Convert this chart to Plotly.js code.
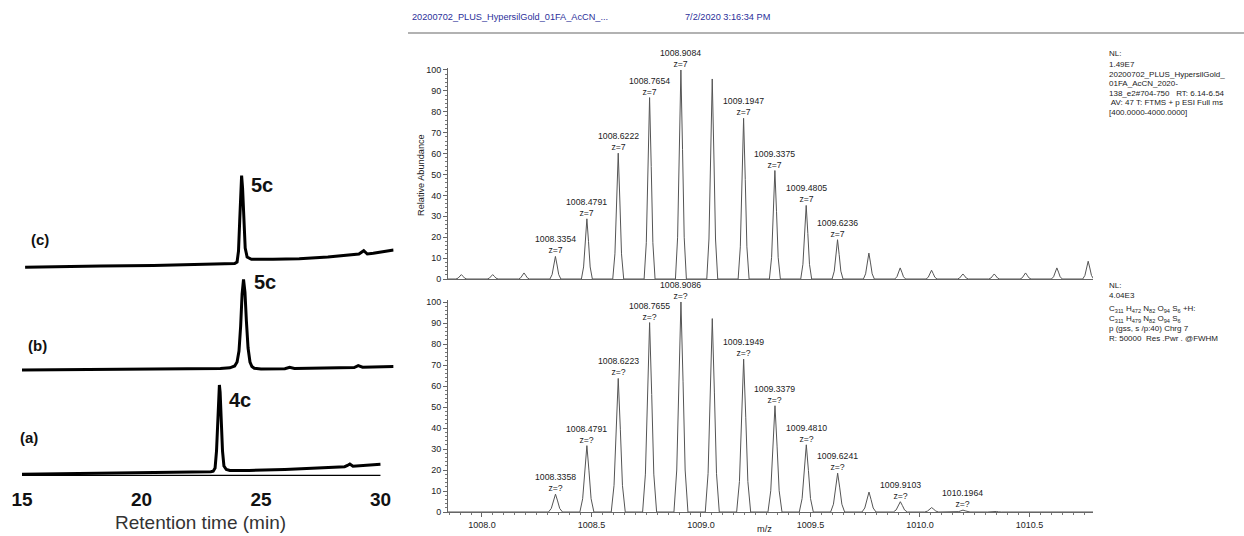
<!DOCTYPE html>
<html>
<head>
<meta charset="utf-8">
<script src="https://cdn.plot.ly/plotly-3.0.1.min.js"></script>
<style>html,body{margin:0;padding:0;background:#fff;}#chart{width:1244px;height:536px;}</style>
</head>
<body>
<div id="chart"></div>
<script>
// ---------- DATA ----------
// Chromatograms (retention time in min, signal in arbitrary units incl. vertical offset of each trace)
const chromA_t = [15, 17, 19, 21, 22.5, 22.9, 23.0, 23.08, 23.14, 23.19, 23.23, 23.26, 23.29, 23.33, 23.39, 23.45, 23.55, 23.7, 24.5, 26, 27.5, 28.5, 28.62, 28.72, 28.85, 29.2, 30];
const chromA_v = [1.7, 2.2, 2.7, 3.2, 3.6, 4.2, 4.8, 8, 25, 60, 84, 91, 84, 60, 25, 10, 6.5, 5.5, 5.5, 6.5, 7.8, 9.3, 10.5, 12, 9.8, 10.6, 11.7];
const chromB_t = [14.95, 17, 19, 21, 22.5, 23.3, 23.7, 23.9, 24.0, 24.08, 24.15, 24.21, 24.27, 24.33, 24.39, 24.46, 24.54, 24.62, 24.72, 25.0, 26.0, 26.2, 26.4, 28.9, 29.07, 29.25, 30.55];
const chromB_v = [106, 106.3, 106.6, 106.9, 107.2, 107.6, 108.2, 110, 114, 125, 150, 182, 196.5, 184, 155, 128, 114, 109.5, 107.8, 107, 107.3, 108.7, 107.6, 108.5, 110.3, 108.8, 109.5];
const chromC_t = [15.13, 16.5, 18.3, 20.5, 22.5, 23.6, 23.9, 24.0, 24.06, 24.11, 24.15, 24.19, 24.23, 24.28, 24.34, 24.42, 24.6, 25.5, 26.6, 27.8, 28.8, 29.1, 29.3, 29.45, 29.7, 30.1, 30.55];
const chromC_v = [208.7, 209.5, 210, 210.6, 211.3, 212, 212.5, 214, 225, 255, 288, 300.5, 288, 252, 228, 219, 216.7, 216.7, 217.3, 219, 220.8, 222, 225.3, 222, 222.8, 224.5, 226];
const chromTicks = [15, 20, 25, 30];
const chromLabels = ["(a)", "(b)", "(c)"];
const peakNames = ["4c", "5c", "5c"];
const chromTitle = "Retention time (min)";

// Mass spectra: centroid m/z and relative abundance
const expMz  = [1007.906, 1008.049, 1008.192, 1008.3354, 1008.4791, 1008.6222, 1008.7654, 1008.9084, 1009.0515, 1009.1947, 1009.3375, 1009.4805, 1009.6236, 1009.7667, 1009.9097, 1010.0528, 1010.196, 1010.339, 1010.482, 1010.625, 1010.768];
const expInt = [2.1, 2.1, 2.9, 10.8, 28.8, 60.2, 86.8, 100, 95.7, 76.9, 51.9, 35.2, 18.8, 12.4, 5.3, 4.2, 2.4, 2.4, 2.9, 5.3, 8.5];
const expLabeled = [1008.3354, 1008.4791, 1008.6222, 1008.7654, 1008.9084, 1009.1947, 1009.3375, 1009.4805, 1009.6236];
const simMz  = [1008.3358, 1008.4791, 1008.6223, 1008.7655, 1008.9086, 1009.0517, 1009.1949, 1009.3379, 1009.4810, 1009.6241, 1009.7672, 1009.9103, 1010.0533, 1010.1964, 1010.3395];
const simInt = [8.5, 31.6, 63.6, 90.2, 100, 92.1, 72.8, 50.6, 32.0, 18.5, 9.5, 4.9, 2.1, 0.9, 0.4];
const simLabeled = [1008.3358, 1008.4791, 1008.6223, 1008.7655, 1008.9086, 1009.1949, 1009.3379, 1009.4810, 1009.6241, 1009.9103, 1010.1964];
const mzRange = [1007.845, 1010.79];
const abundTicks = [0, 10, 20, 30, 40, 50, 60, 70, 80, 90, 100];

const headerFile = "20200702_PLUS_HypersilGold_01FA_AcCN_...";
const headerDate = "7/2/2020 3:16:34 PM";
const infoTop = ["NL:", "1.49E7", "20200702_PLUS_HypersilGold_", "01FA_AcCN_2020-", "138_e2#704-750   RT: 6.14-6.54", " AV: 47 T: FTMS + p ESI Full ms", "[400.0000-4000.0000]"];
const infoBot = ["NL:", "4.04E3",
  "C<sub>311</sub> H<sub>472</sub> N<sub>82</sub> O<sub>94</sub> S<sub>6</sub> +H:",
  "C<sub>311</sub> H<sub>479</sub> N<sub>82</sub> O<sub>94</sub> S<sub>6</sub>",
  "p (gss, s /p:40) Chrg 7", "R: 50000  Res .Pwr . @FWHM"];

// ---------- HELPERS ----------
const W = 1244, H = 536;
const fx = px => px / W;
const fy = py => (H - py) / H;
const SANS = "Liberation Sans, Arial, sans-serif";

// profile peak shape (style only)
const shapeOff = [-1, -0.6, -0.3, 0, 0.3, 0.6, 1];
const shapeRel = [0, 0.2, 0.62, 1, 0.62, 0.2, 0];
function profile(mz, inten, halfW, range) {
  const xs = [range[0]], ys = [0];
  mz.forEach((m, i) => {
    shapeOff.forEach((o, k) => { xs.push(m + o * halfW); ys.push(inten[i] * shapeRel[k]); });
  });
  xs.push(range[1]); ys.push(0);
  return {xs, ys};
}
const pTop = profile(expMz, expInt, 0.025, mzRange);
const pBot = profile(simMz, simInt, 0.032, mzRange);

const traces = [
  {x: chromA_t, y: chromA_v, xaxis: 'x', yaxis: 'y', mode: 'lines', line: {color: '#000', width: 3}, hoverinfo: 'skip'},
  {x: chromB_t, y: chromB_v, xaxis: 'x', yaxis: 'y', mode: 'lines', line: {color: '#000', width: 3}, hoverinfo: 'skip'},
  {x: chromC_t, y: chromC_v, xaxis: 'x', yaxis: 'y', mode: 'lines', line: {color: '#000', width: 3}, hoverinfo: 'skip'},
  {x: pTop.xs, y: pTop.ys, xaxis: 'x2', yaxis: 'y2', mode: 'lines', line: {color: '#555', width: 1}, hoverinfo: 'skip'},
  {x: pBot.xs, y: pBot.ys, xaxis: 'x3', yaxis: 'y3', mode: 'lines', line: {color: '#555', width: 1}, hoverinfo: 'skip'}
];

const annotations = [];
function paperText(text, px, py, size, opts) {
  annotations.push(Object.assign({
    text: text, xref: 'paper', yref: 'paper', x: fx(px), y: fy(py),
    xanchor: 'center', yanchor: 'middle', showarrow: false,
    font: {family: SANS, size: size, color: '#222'}
  }, opts || {}));
}
// chromatogram labels
paperText(chromLabels[2], 40, 239, 15, {font: {family: SANS, size: 15, color: '#111', weight: 'bold'}});
paperText(chromLabels[1], 37, 345, 15, {font: {family: SANS, size: 15, color: '#111', weight: 'bold'}});
paperText(chromLabels[0], 29, 437, 15, {font: {family: SANS, size: 15, color: '#111', weight: 'bold'}});
paperText(peakNames[2], 262, 185, 20, {font: {family: SANS, size: 20, color: '#111', weight: 'bold'}});
paperText(peakNames[1], 265, 282, 20, {font: {family: SANS, size: 20, color: '#111', weight: 'bold'}});
paperText(peakNames[0], 240, 400, 20, {font: {family: SANS, size: 20, color: '#111', weight: 'bold'}});
paperText(chromTitle, 200, 522, 19, {font: {family: SANS, size: 19, color: '#333'}});

// header
paperText(headerFile, 410, 17, 9.2, {xanchor: 'left', font: {family: SANS, size: 9.2, color: '#2b2f9a'}});
paperText(headerDate, 683, 17, 9.2, {xanchor: 'left', font: {family: SANS, size: 9.2, color: '#2b2f9a'}});

// info blocks
const infoTopY = [53.5, 64, 74, 83.5, 93.3, 102.8, 112.7];
infoTop.forEach((t, i) => paperText(t, 1107, infoTopY[i], 8, {xanchor: 'left', font: {family: SANS, size: 8, color: '#222'}}));
const infoBotY = [285, 295, 309, 318.5, 328.5, 338.5];
infoBot.forEach((t, i) => paperText(t, 1107, infoBotY[i], 8, {xanchor: 'left', font: {family: SANS, size: 8, color: '#222'}}));

// axis titles of spectra
paperText("Relative Abundance", 421, 175, 9.2, {textangle: -90, font: {family: SANS, size: 9.2, color: '#222'}});
paperText("m/z", 764, 536, 9.2, {yanchor: 'bottom', font: {family: SANS, size: 9.2, color: '#222'}});

// peak labels
expLabeled.forEach(m => {
  const i = expMz.indexOf(m);
  annotations.push({text: m.toFixed(4) + "<br>z=7", x: m, y: expInt[i], xref: 'x2', yref: 'y2',
    xanchor: 'center', yanchor: 'bottom', showarrow: false, yshift: -1,
    font: {family: SANS, size: 8.7, color: '#222'}});
});
simLabeled.forEach(m => {
  const i = simMz.indexOf(m);
  annotations.push({text: m.toFixed(4) + "<br>z=?", x: m, y: simInt[i], xref: 'x3', yref: 'y3',
    xanchor: 'center', yanchor: 'bottom', showarrow: false, yshift: -1,
    font: {family: SANS, size: 8.7, color: '#222'}});
});

const specY = {
  range: [0, 101], tickvals: abundTicks, ticks: 'outside', ticklen: 4, tickwidth: 1, tickcolor: '#666',
  minor: {dtick: 2, ticks: 'outside', ticklen: 2, tickcolor: '#777', showgrid: false},
  showline: true, linecolor: '#666', linewidth: 1, showgrid: false, zeroline: false,
  tickfont: {family: SANS, size: 9, color: '#222'}, fixedrange: true
};

const layout = {
  width: W, height: H,
  margin: {l: 0, r: 0, t: 0, b: 0},
  paper_bgcolor: '#fff', plot_bgcolor: 'rgba(0,0,0,0)',
  showlegend: false,
  xaxis: {domain: [fx(22), fx(393.6)], range: [15, 30.55], anchor: 'y', tickvals: chromTicks,
    ticks: '', showline: false, showgrid: false, zeroline: false, ticklabelstandoff: 10,
    tickfont: {family: SANS, size: 19, color: '#111', weight: 'bold'}},
  yaxis: {domain: [fy(476), fy(165)], range: [0, 311], anchor: 'x', visible: false},
  xaxis2: {domain: [fx(448), fx(1093)], range: mzRange, anchor: 'y2', showticklabels: false, ticks: '',
    showline: true, linecolor: '#666', linewidth: 1, showgrid: false, zeroline: false},
  yaxis2: Object.assign({domain: [fy(279), fy(67.9)], anchor: 'x2'}, specY),
  xaxis3: {domain: [fx(448), fx(1093)], range: mzRange, anchor: 'y3', tick0: 1008, dtick: 0.5, tickformat: '.1f',
    ticks: 'outside', ticklen: 4, tickcolor: '#666',
    minor: {dtick: 0.05, ticks: 'outside', ticklen: 2, tickcolor: '#777', showgrid: false},
    showline: true, linecolor: '#666', linewidth: 1, showgrid: false, zeroline: false,
    tickfont: {family: SANS, size: 9, color: '#222'}},
  yaxis3: Object.assign({domain: [fy(512), fy(299.9)], anchor: 'x3'}, specY),
  shapes: [
    {type: 'line', xref: 'x', yref: 'y', x0: 15, x1: 30, y0: 0, y1: 0, line: {color: '#000', width: 2.5}},
    {type: 'line', xref: 'paper', yref: 'paper', x0: fx(408), x1: 1, y0: fy(33), y1: fy(33), line: {color: '#999', width: 1.5}}
  ],
  annotations: annotations
};

Plotly.newPlot('chart', traces, layout, {staticPlot: true, displayModeBar: false});
</script>
</body>
</html>
